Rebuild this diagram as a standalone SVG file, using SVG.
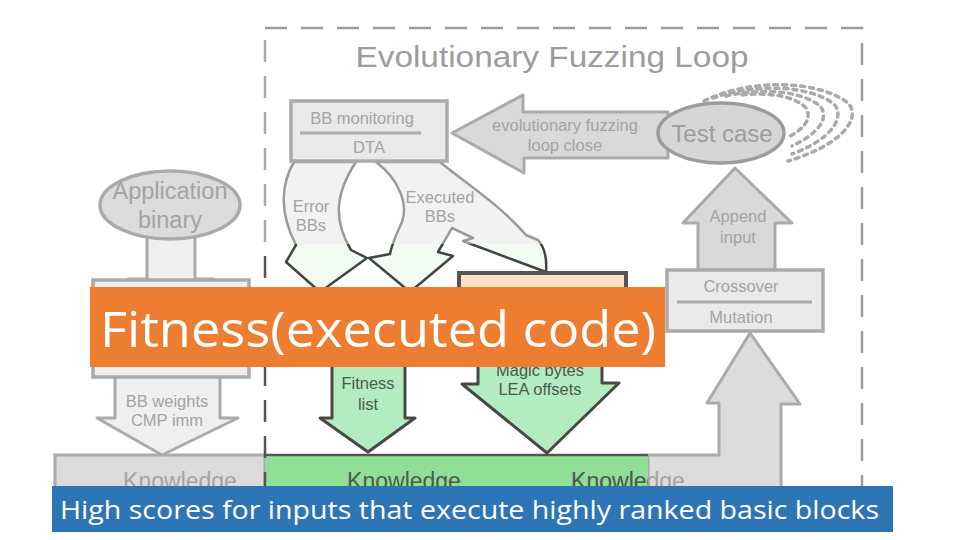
<svg xmlns="http://www.w3.org/2000/svg" width="960" height="540" viewBox="0 0 960 540">
<style>
.t{font-family:"Liberation Sans",Arial,sans-serif;text-anchor:middle}
.g{fill:#a3a3a3}
.d{fill:#4a5a4a}
.s15{font-size:16.5px}
.gbox{fill:#e9e9e9;stroke:#aaa;stroke-width:3.5}
.garr{fill:#d9d9d9;stroke:#aaa;stroke-width:3;stroke-linejoin:round}
.larr{fill:#efefef;stroke:#aaa;stroke-width:3;stroke-linejoin:round}
.green{fill:#b4ecc1;stroke:#484848;stroke-width:3;stroke-linejoin:round}
.dot{fill:none;stroke:#aaa;stroke-width:3.5;stroke-dasharray:4 5;stroke-linecap:round}
.w{fill:#fff;font-family:"Open Sans","Noto Sans",sans-serif}
</style>
<defs>
<linearGradient id="fillG" gradientUnits="userSpaceOnUse" x1="0" y1="160" x2="0" y2="300">
<stop offset="0.6" stop-color="#f2f2f2"/><stop offset="0.6" stop-color="#f1fbf1"/>
</linearGradient>
<linearGradient id="strG" gradientUnits="userSpaceOnUse" x1="0" y1="160" x2="0" y2="300">
<stop offset="0.6" stop-color="#9a9a9a"/><stop offset="0.6" stop-color="#444"/>
</linearGradient>
<linearGradient id="dashG" gradientUnits="userSpaceOnUse" x1="0" y1="28" x2="0" y2="490">
<stop offset="0.47" stop-color="#aaa"/><stop offset="0.47" stop-color="#555"/>
</linearGradient>
<clipPath id="greenClip"><rect x="265" y="440" width="383" height="60"/></clipPath>
</defs>

<!-- frame -->
<g id="frame">
<path d="M265,28 H862 V490" fill="none" stroke="#9c9c9c" stroke-width="2.5" stroke-dasharray="22 14"/>
<text class="t" x="552" y="67" font-size="30" fill="#9c9c9c" textLength="393" lengthAdjust="spacingAndGlyphs">Evolutionary Fuzzing Loop</text>
</g>

<!-- knowledge bar -->
<g id="knowledge">
<rect x="55" y="455" width="210" height="50" fill="#dcdcdc" stroke="#aaa" stroke-width="3"/>
<path d="M648,455 H719 V403 H707 L750,333 L800,404 H781 V480 Q783,500 770,505 H648 Z" fill="#dcdcdc" stroke="#aaa" stroke-width="3" stroke-linejoin="round"/>
<rect x="265" y="455" width="383" height="50" fill="#8fdf96"/>
<line x1="265" y1="455" x2="648" y2="455" stroke="#555" stroke-width="2.5"/>
<line x1="265" y1="40" x2="265" y2="490" stroke="url(#dashG)" stroke-width="2.5" stroke-dasharray="22 14"/>
<text class="t g" x="180" y="489" font-size="23">Knowledge</text>
<text class="t d" x="404" y="489" font-size="23">Knowledge</text>
<text class="t g" x="628" y="489" font-size="23">Knowledge</text>
<text class="t d" x="628" y="489" font-size="23" clip-path="url(#greenClip)">Knowledge</text>
</g>

<!-- connectors -->
<g id="connectors">
<path id="loopArrow" class="garr" d="M452,133 L523,95 V112 H668 V158 H524 V173 Z"/>
<path id="appendArrow" class="garr" d="M735,168 L792,223 H775 V270 H698 V223 H683 Z"/>
<path id="appArrow" class="larr" d="M147,236 V279 H128 L171,305 L214,279 H195 V236 Z"/>
<path id="bbwArrow" class="larr" fill="#e9e9e9" d="M115,376 V418 H97 L162,455 L238,418 H220 V376 Z"/>
<path id="errArrow" fill="url(#fillG)" stroke="url(#strG)" stroke-width="2.5" stroke-linejoin="round" d="M294,162 C280,185 280,215 296,245 L286,262 L320,292 L367,258 L351,250 C334,222 334,195 356,162 Z"/>
<path id="exeArrow" fill="url(#fillG)" stroke="url(#strG)" stroke-width="2.5" stroke-linejoin="round" d="M376,162 C400,180 408,205 402,222 C396,235 392,243 390,254 L369,258 L410,292 L453,256 L438,252 L452,228 L473,238 L463,241 L546,272 C547,260 545,248 538,240 L526,235 C500,205 468,185 440,162 Z"/>
<path id="fitArrow" class="green" d="M332,362 V418 H320 L368,452 L415,418 H405 V362 Z"/>
<path id="magicArrow" class="green" d="M478,355 V384 H462 L547,453 L619,383 H602 V355 Z"/>
<path class="dot" d="M704,101 C745,80 815,78 848,103 C862,118 842,145 788,161"/>
<path class="dot" d="M713,98 C752,84 808,84 834,104 C846,118 830,140 792,154"/>
<path class="dot" d="M726,96 C760,88 800,90 820,106 C830,118 818,134 792,146"/>
<path class="dot" d="M742,95 C768,92 795,96 806,108 C812,118 805,128 790,136"/>
</g>

<!-- nodes -->
<g id="bbmon">
<rect class="gbox" x="291" y="101" width="156" height="60"/>
<text class="t g s15" x="362" y="124">BB monitoring</text>
<line x1="300" y1="133" x2="421" y2="133" stroke="#aaa" stroke-width="3"/>
<text class="t g s15" x="369" y="153">DTA</text>
</g>
<g id="loopLabel">
<text class="t g s15" x="565" y="131">evolutionary fuzzing</text>
<text class="t g s15" x="565" y="151">loop close</text>
</g>
<g id="testcase">
<ellipse cx="721" cy="133" rx="63" ry="30" fill="#d6d6d6" stroke="#9c9c9c" stroke-width="3.5"/>
<text class="t" x="722" y="142" font-size="24" fill="#9c9c9c">Test case</text>
</g>
<g id="appbin">
<ellipse cx="170" cy="205" rx="70" ry="34" fill="#dcdcdc" stroke="#aaa" stroke-width="3.5"/>
<text class="t g" x="170" y="199" font-size="23.5">Application</text>
<text class="t g" x="170" y="228" font-size="23.5">binary</text>
</g>
<g id="labels">
<text class="t g s15" x="311" y="212">Error</text>
<text class="t g s15" x="311" y="231">BBs</text>
<text class="t g s15" x="440" y="203">Executed</text>
<text class="t g s15" x="440" y="222">BBs</text>
<text class="t g s15" x="738" y="222">Append</text>
<text class="t g s15" x="738" y="243">input</text>
<text class="t g s15" x="167" y="407">BB weights</text>
<text class="t g s15" x="167" y="426">CMP imm</text>
<text class="t d s15" x="368" y="389">Fitness</text>
<text class="t d s15" x="368" y="410">list</text>
<text class="t d s15" x="540" y="376">Magic bytes</text>
<text class="t d s15" x="540" y="395">LEA offsets</text>
</g>
<g id="crossover">
<rect class="gbox" x="667" y="270" width="156" height="61"/>
<text class="t g s15" x="741" y="292">Crossover</text>
<line x1="677" y1="302" x2="812" y2="302" stroke="#aaa" stroke-width="3"/>
<text class="t g s15" x="741" y="323">Mutation</text>
</g>
<g id="static">
<rect x="93" y="280" width="156" height="97" fill="#eeeeee" stroke="#aaa" stroke-width="3.5"/>
</g>
<g id="peach">
<rect x="459" y="273" width="167" height="90" fill="#fde0c5" stroke="#555" stroke-width="4"/>
</g>

<!-- overlays -->
<g id="fitnessBanner">
<rect x="90" y="287" width="575" height="80" fill="#ed7d31"/>
<text class="w" x="100" y="347" font-size="50" textLength="556" lengthAdjust="spacingAndGlyphs">Fitness(executed code)</text>
</g>
<g id="caption">
<rect x="52" y="486" width="841" height="46" fill="#2e75b6"/>
<text class="w" x="60" y="519" font-size="26" textLength="819" lengthAdjust="spacingAndGlyphs">High scores for inputs that execute highly ranked basic blocks</text>
</g>
</svg>
